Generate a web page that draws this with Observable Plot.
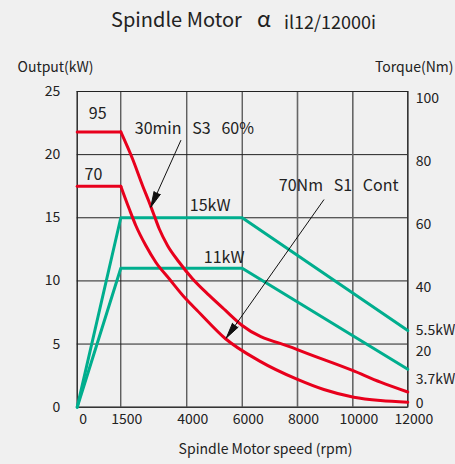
<!DOCTYPE html>
<html>
<head>
<meta charset="utf-8">
<script src="https://cdn.jsdelivr.net/npm/d3@7"></script>
<script src="https://cdn.jsdelivr.net/npm/@observablehq/plot@0.6"></script>
<style>
  html, body { margin: 0; padding: 0; background: #f0f0f0; }
  body { width: 455px; height: 464px; position: relative; overflow: hidden; font-family: 'Noto Sans CJK JP', sans-serif; }
  #title { position: absolute; left: 0; top: 9px; width: 455px; height: 22px; z-index: 2; font-size: 20px; line-height: 20px; color: #222; white-space: pre; }
  #title span { position: absolute; top: 0; }
  #t1 { left: 111px; }
  #title #t2 { left: 257px; top: -2px; font-size: 22px; }
  #title #t3 { left: 284px; top: 1.5px; font-size: 18px; }
  #chart { position: absolute; left: 0; top: 0; z-index: 1; }
</style>
</head>
<body>
<div id="chart"></div>
<div id="title"><span id="t1">Spindle Motor</span><span id="t2">α</span><span id="t3">il12/12000i</span></div>
<script>
// ---- data ----
const speedTicks = [0, 1500, 4000, 6000, 8000, 10000, 12000];
const powerTicks = [0, 5, 10, 15, 20, 25];
const torqueLabels = ["0", "20", "40", "60", "80", "100"];

// 30min S3 60% (95 Nm) output curve
const s3Speed = [0, 1500, 1943, 2322, 2576, 2765, 2955, 3269, 3712, 4206, 4809, 5397, 6000, 7928, 9990, 11007, 12000];
const s3Power = [21.8, 21.8, 19.67, 17.56, 16.23, 15.18, 14.13, 12.81, 11.48, 10.17, 8.85, 7.66, 6.47, 4.62, 2.91, 1.98, 1.2];

// 70Nm S1 continuous output curve
const s1Speed = [0, 1500, 1818, 2068, 2447, 2826, 3333, 3962, 4375, 5397, 6600, 8000, 8951, 10036, 11007, 12000];
const s1Power = [17.5, 17.5, 15.71, 14.39, 12.8, 11.48, 10.17, 8.58, 7.66, 5.42, 3.69, 2.2, 1.4, 0.79, 0.53, 0.4];

// 15kW / 11kW rated output lines
const ratedSpeed = [0, 1500, 6000, 12000];
const rated15Power = [0, 15, 15, 6.07];
const rated11Power = [0, 11, 11, 3.0];

// annotations
const labelText = ["95", "70", "30min\u00a0\u00a0\u00a0S3\u00a0\u00a0\u00a060%", "15kW", "11kW", "70Nm\u00a0\u00a0\u00a0S1\u00a0\u00a0\u00a0Cont"];
const labelSpeed = [399, 251, 2030, 4108, 4614, 7324];
const labelPower = [23.23, 18.4, 22.05, 15.92, 11.83, 17.56];

const endText = ["5.5kW", "3.7kW"];
const endSpeed = [12000, 12000];
const endPower = [6.07, 2.19];

const arrowFromSpeed = [3773, 8951];
const arrowFromPower = [21.12, 16.42];
const arrowToSpeed = [2636, 5426];
const arrowToPower = [15.84, 5.48];

// ---- build tables ----
function segments(speed, power) {
  // flat (constant) part and falling part
  const rows = [];
  speed.forEach((s, i) => {
    if (i <= 1) rows.push({s, p: power[i], seg: "flat"});
    if (i >= 1) rows.push({s, p: power[i], seg: "fall"});
  });
  return rows;
}
const s3Rows = segments(s3Speed, s3Power);
const s1Rows = segments(s1Speed, s1Power);
const r15 = ratedSpeed.map((s, i) => ({s, p: rated15Power[i]}));
const r11 = ratedSpeed.map((s, i) => ({s, p: rated11Power[i]}));
const labels = labelText.map((t, i) => ({t, s: labelSpeed[i], p: labelPower[i]}));
const ends = endText.map((t, i) => ({t, s: endSpeed[i], p: endPower[i]}));
const arrows = arrowFromSpeed.map((s, i) => ({x1: s, y1: arrowFromPower[i], x2: arrowToSpeed[i], y2: arrowToPower[i]}));
const torqueRows = powerTicks.map((p, i) => ({p, t: torqueLabels[i]}));

// ---- layout ----
const W = 455, H = 464;
const mL = 76.7, mR = 47.7, mT = 91, mB = 57.3;
const colW = [43.6, 66, 55.4, 55.3, 55.3, 55];  // column widths of the drawn grid
const xRange = [mL];
colW.forEach(w => xRange.push(xRange[xRange.length - 1] + w));

const RED = "#e8001c", TEAL = "#00ae8e", INK = "#222";

const chart = Plot.plot({
  width: W, height: H,
  marginLeft: mL, marginRight: mR, marginTop: mT, marginBottom: mB,
  style: {background: "#f0f0f0", fontFamily: "'Noto Sans CJK JP', sans-serif", fontSize: "14px", color: INK, overflow: "visible"},
  x: {type: "linear", domain: speedTicks, range: xRange, axis: null},
  y: {domain: [0, 25], axis: null},
  marks: [
    Plot.ruleY(powerTicks, {y: d => d, stroke: INK, strokeWidth: 1}),
    Plot.ruleX(speedTicks.filter(d => d <= 6000), {x: d => d, stroke: INK, strokeWidth: 1}),
    Plot.ruleX(speedTicks.filter(d => d > 6000), {x: d => d, stroke: "#666", strokeWidth: 1.6}),
    Plot.frame({stroke: INK, strokeWidth: 1}),
    Plot.line(r15, {x: "s", y: "p", stroke: TEAL, strokeWidth: 3}),
    Plot.line(r11, {x: "s", y: "p", stroke: TEAL, strokeWidth: 3}),
    Plot.line(s3Rows, {x: "s", y: "p", z: "seg", stroke: RED, strokeWidth: 3, curve: "monotone-x"}),
    Plot.line(s1Rows, {x: "s", y: "p", z: "seg", stroke: RED, strokeWidth: 3, curve: "monotone-x"}),
    Plot.arrow(arrows, {x1: "x1", y1: "y1", x2: "x2", y2: "y2", stroke: "#111", fill: "#111", strokeWidth: 1, headLength: 24, headAngle: 25}),
    Plot.text(labels, {x: "s", y: "p", text: "t", textAnchor: "start", fontSize: 16, fill: INK}),
    Plot.text(ends, {x: "s", y: "p", text: "t", textAnchor: "start", dx: 8, fontSize: 14, fill: INK}),
    // tick labels
    Plot.text(powerTicks, {y: d => d, text: d => String(d), frameAnchor: "left", textAnchor: "end", dx: -17, fill: INK}),
    Plot.text(torqueRows.filter(d => d.p > 0), {y: "p", text: "t", frameAnchor: "right", textAnchor: "start", dx: 8, dy: 7, fill: INK}),
    Plot.text(torqueRows.filter(d => d.p === 0), {y: "p", text: "t", frameAnchor: "right", textAnchor: "start", dx: 8, dy: -4, fill: INK}),
    Plot.text(speedTicks, {x: d => d, text: d => String(d), frameAnchor: "bottom", dy: 17, dx: 6, fill: INK}),
    // axis titles
    Plot.text(["Output(kW)"], {frameAnchor: "top-left", textAnchor: "start", dx: -59.7, dy: -29, fill: INK}),
    Plot.text(["Torque(Nm)"], {frameAnchor: "top-right", textAnchor: "end", dx: 45.7, dy: -29, fill: INK}),
    Plot.text(["Spindle Motor speed (rpm)"], {frameAnchor: "bottom", dx: 23, dy: 46.3, fill: INK})
  ]
});
document.getElementById("chart").appendChild(chart);
</script>
</body>
</html>
